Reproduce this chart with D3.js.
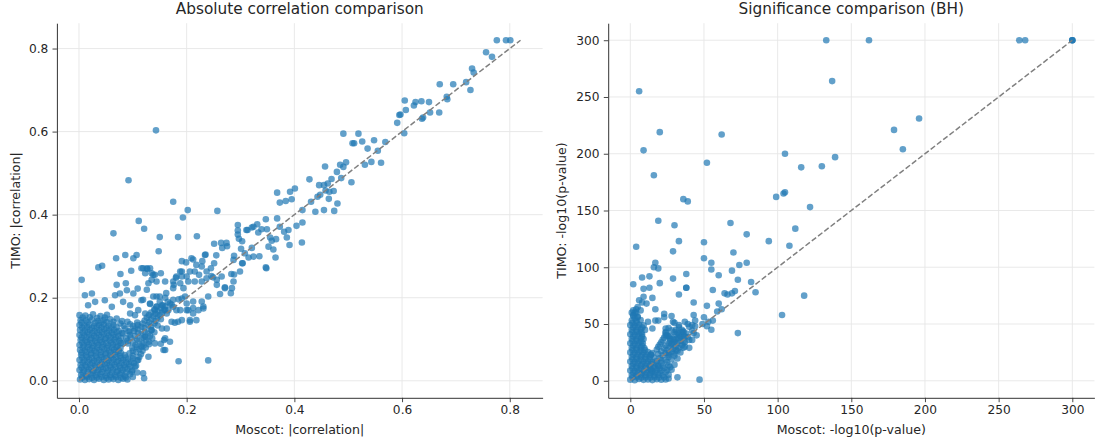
<!DOCTYPE html>
<html><head><meta charset="utf-8">
<script src="https://cdn.jsdelivr.net/npm/d3@7"></script>
<style>body{margin:0;background:#fff}svg{display:block}text{font-family:"DejaVu Sans",sans-serif}</style>
</head><body><svg id="chart" width="1096" height="447"></svg>
<script>
// ---------- data ----------
const titles = ["Absolute correlation comparison", "Significance comparison (BH)"];
const xLabels = ["Moscot: |correlation|", "Moscot: -log10(p-value)"];
const yLabels = ["TIMO: |correlation|", "TIMO: -log10(p-value)"];
const corrTicks = [0, 0.2, 0.4, 0.6, 0.8];
const corrTickLabels = ["0.0", "0.2", "0.4", "0.6", "0.8"];
const sigTicks = [0, 50, 100, 150, 200, 250, 300];
const sigTickLabels = ["0", "50", "100", "150", "200", "250", "300"];
const corrDiag = [0, 0.82];
const sigDiag = [0, 300];

// [Moscot |corr|, TIMO |corr|]
const corrPoints = [
[0.776,0.82],[0.793,0.82],[0.801,0.82],[0.756,0.791],[0.767,0.78],[0.730,0.752],[0.733,0.742],[0.719,0.719],[0.727,0.70],[0.670,0.714],[0.695,0.714],[0.683,0.684],[0.684,0.678],[0.669,0.646],[0.652,0.646],[0.650,0.671],[0.636,0.673],[0.625,0.671],[0.622,0.663],[0.605,0.675],[0.607,0.652],[0.595,0.640],[0.597,0.641],[0.591,0.621],[0.604,0.596],[0.637,0.631],[0.639,0.634],[0.491,0.595],[0.519,0.595],[0.508,0.572],[0.511,0.572],[0.526,0.576],[0.548,0.579],[0.536,0.559],[0.555,0.554],[0.569,0.575],[0.561,0.525],[0.543,0.527],[0.531,0.520],[0.496,0.526],[0.491,0.515],[0.485,0.520],[0.479,0.503],[0.487,0.488],[0.457,0.516],[0.428,0.485],[0.469,0.486],[0.462,0.475],[0.455,0.471],[0.446,0.471],[0.458,0.458],[0.465,0.455],[0.473,0.457],[0.506,0.478],[0.480,0.427],[0.464,0.438],[0.448,0.448],[0.443,0.443],[0.431,0.431],[0.474,0.409],[0.455,0.411],[0.439,0.407],[0.415,0.411],
[0.143,0.603],[0.092,0.483],[0.175,0.431],[0.202,0.411],[0.193,0.393],[0.257,0.409],[0.111,0.385],[0.121,0.366],[0.064,0.355],[0.150,0.346],[0.184,0.346],[0.219,0.348],[0.148,0.312],[0.086,0.303],[0.069,0.295],[0.107,0.303],[0.101,0.295],[0.036,0.273],[0.043,0.277],[0.119,0.271],[0.126,0.271],[0.191,0.288],[0.199,0.285],[0.212,0.292],[0.229,0.288],[0.234,0.303],[0.255,0.302],[0.251,0.330],[0.264,0.332],[0.275,0.324],[0.266,0.320],[0.295,0.375],[0.295,0.362],[0.295,0.352],[0.297,0.342],[0.303,0.336],[0.311,0.363],[0.321,0.369],[0.301,0.318],[0.288,0.301],[0.304,0.283],
[0.331,0.377],[0.333,0.357],[0.339,0.365],[0.324,0.371],[0.313,0.363],[0.347,0.389],[0.349,0.365],[0.355,0.345],[0.358,0.337],[0.352,0.323],[0.361,0.316],[0.366,0.341],[0.368,0.391],[0.373,0.371],[0.381,0.359],[0.386,0.345],[0.389,0.363],[0.368,0.453],[0.373,0.429],[0.384,0.433],[0.392,0.455],[0.401,0.463],[0.395,0.437],[0.404,0.373],[0.415,0.381],[0.414,0.333],[0.391,0.327],[0.347,0.273],[0.335,0.300],
[0.288,0.256],[0.315,0.297],[0.251,0.283],[0.245,0.271],[0.223,0.255],[0.206,0.263],[0.191,0.251],[0.181,0.251],[0.175,0.239],[0.160,0.239],[0.144,0.239],[0.138,0.255],[0.126,0.219],[0.138,0.203],[0.150,0.203],[0.162,0.211],[0.175,0.223],[0.188,0.235],[0.200,0.251],[0.215,0.239],[0.228,0.239],[0.237,0.247],[0.246,0.252],[0.256,0.243],[0.265,0.251],[0.271,0.225],[0.284,0.223],[0.262,0.209],[0.240,0.203],[0.228,0.191],[0.231,0.179],[0.212,0.191],[0.197,0.203],[0.185,0.196],[0.172,0.183],[0.160,0.179],[0.144,0.179],[0.132,0.185],[0.119,0.195],
[0.005,0.243],[0.077,0.257],[0.097,0.265],[0.116,0.271],[0.127,0.269],[0.135,0.259],[0.141,0.255],[0.152,0.259],[0.176,0.231],[0.180,0.248],[0.188,0.263],[0.194,0.223],[0.203,0.239],[0.215,0.263],[0.218,0.279],[0.228,0.275],[0.237,0.263],[0.249,0.249],[0.256,0.231],[0.271,0.223],[0.282,0.211],[0.287,0.239],[0.299,0.263],[0.348,0.271],[0.308,0.307],[0.287,0.291],[0.274,0.332],[0.235,0.304],[0.209,0.295],[0.191,0.263],[0.303,0.283],[0.324,0.299],[0.365,0.297],[0.321,0.32],[0.283,0.257],
[0.166,0.170],[0.175,0.178],[0.188,0.170],[0.200,0.170],[0.212,0.175],[0.218,0.146],[0.206,0.146],[0.191,0.146],[0.178,0.140],[0.163,0.126],[0.158,0.098],[0.152,0.089],[0.160,0.074],[0.185,0.047],[0.240,0.049],[0.119,0.018],[0.121,0.006],
[0.132,0.271],[0.123,0.259],[0.135,0.243],[0.129,0.235],[0.070,0.231],[0.087,0.235],[0.089,0.218],[0.101,0.210],[0.109,0.222],[0.076,0.210],[0.067,0.206],[0.011,0.206],[0.024,0.210],[0.030,0.190],[0.017,0.182],[0.048,0.194],[0.061,0.178],[0.082,0.190],[0.095,0.182],[0.116,0.194],[0.132,0.186],[0.144,0.203],[0.154,0.182],[0.160,0.170],[0.169,0.186],[0.181,0.170],[0.191,0.198],[0.200,0.186],[0.203,0.170],[0.212,0.162],[0.222,0.170],[0.231,0.174],[0.206,0.142],[0.184,0.142],[0.172,0.142],[0.163,0.162],[0.141,0.170],[0.123,0.162],[0.110,0.170],[0.104,0.158],[0.095,0.162],[0.154,0.126],[0.160,0.102],[0.157,0.074],[0.169,0.094],[0.141,0.090],[0.129,0.058],[0.135,0.122],[0.123,0.106],[0.116,0.082],[0.110,0.050],[0.104,0.034],
[0.002,0.003],[0.011,0.002],[0.019,0.004],[0.028,0.002],[0.037,0.005],[0.046,0.002],[0.055,0.003],[0.064,0.004],[0.073,0.002],[0.082,0.005],[0.09,0.003],
[0.004,0.014],[0.013,0.012],[0.022,0.015],[0.031,0.013],[0.04,0.016],[0.049,0.012],[0.058,0.014],[0.067,0.013],[0.076,0.015],[0.085,0.012],[0.095,0.016],[0.108,0.02],
[0.001,0.026],[0.009,0.025],[0.018,0.027],[0.027,0.024],[0.036,0.026],[0.045,0.028],[0.054,0.025],[0.063,0.027],[0.072,0.024],[0.081,0.026],[0.09,0.028],[0.099,0.025],
[0.003,0.038],[0.012,0.037],[0.021,0.039],[0.03,0.036],[0.039,0.038],[0.048,0.04],[0.057,0.037],[0.066,0.039],[0.075,0.036],[0.084,0.038],[0.093,0.04],[0.102,0.042],
[0.001,0.05],[0.01,0.049],[0.019,0.051],[0.028,0.048],[0.037,0.05],[0.046,0.052],[0.055,0.049],[0.064,0.051],[0.073,0.048],[0.082,0.05],[0.091,0.052],[0.1,0.054],[0.112,0.057],
[0.004,0.062],[0.013,0.061],[0.022,0.063],[0.031,0.06],[0.04,0.062],[0.049,0.064],[0.058,0.061],[0.067,0.063],[0.076,0.06],[0.085,0.062],[0.094,0.066],[0.106,0.069],[0.118,0.072],
[0.002,0.074],[0.011,0.073],[0.02,0.075],[0.029,0.072],[0.038,0.074],[0.047,0.076],[0.056,0.073],[0.065,0.075],[0.074,0.072],[0.099,0.079],[0.108,0.082],[0.12,0.085],[0.13,0.088],
[0.001,0.086],[0.009,0.085],[0.018,0.087],[0.027,0.084],[0.036,0.086],[0.045,0.088],[0.054,0.085],[0.063,0.087],[0.072,0.084],[0.081,0.09],[0.091,0.09],[0.1,0.093],[0.112,0.096],[0.124,0.099],[0.136,0.102],
[0.003,0.098],[0.012,0.097],[0.021,0.099],[0.03,0.096],[0.039,0.098],[0.048,0.1],[0.057,0.097],[0.066,0.099],[0.075,0.096],[0.088,0.102],[0.096,0.104],[0.104,0.108],[0.116,0.111],[0.128,0.114],[0.14,0.117],
[0.001,0.11],[0.01,0.109],[0.019,0.111],[0.028,0.108],[0.037,0.11],[0.046,0.112],[0.055,0.109],[0.064,0.111],[0.073,0.108],[0.082,0.114],[0.094,0.118],[0.102,0.12],[0.11,0.124],[0.122,0.127],[0.134,0.13],[0.146,0.133],
[0.002,0.122],[0.011,0.121],[0.02,0.123],[0.029,0.12],[0.038,0.122],[0.047,0.124],[0.056,0.121],[0.065,0.123],[0.074,0.12],[0.086,0.126],[0.1,0.132],[0.109,0.134],[0.118,0.138],[0.13,0.141],[0.142,0.144],[0.152,0.148],
[0.001,0.134],[0.01,0.133],[0.019,0.135],[0.028,0.132],[0.037,0.134],[0.046,0.136],[0.055,0.133],[0.064,0.135],[0.077,0.138],[0.09,0.142],[0.126,0.152],[0.138,0.155],[0.15,0.158],
[0.003,0.146],[0.013,0.145],[0.024,0.147],[0.035,0.144],[0.046,0.146],[0.058,0.148],[0.07,0.15],[0.134,0.164],[0.146,0.167],[0.158,0.17],
[0.001,0.158],[0.012,0.157],[0.026,0.16],[0.04,0.156],[0.052,0.159],[0.144,0.178],[0.156,0.181],
[0.15,0.19],[0.165,0.19],[0.16,0.2],[0.175,0.195],
[0.006,0.008],[0.015,0.009],[0.024,0.007],[0.033,0.008],[0.042,0.009],[0.051,0.007],[0.06,0.008],[0.069,0.009],[0.078,0.007],[0.087,0.008],[0.1,0.009],
[0.007,0.02],[0.016,0.021],[0.025,0.019],[0.034,0.02],[0.043,0.021],[0.052,0.019],[0.061,0.02],[0.07,0.021],[0.079,0.019],[0.088,0.02],[0.098,0.022],
[0.005,0.032],[0.014,0.033],[0.023,0.031],[0.032,0.032],[0.041,0.033],[0.05,0.031],[0.059,0.032],[0.068,0.033],[0.077,0.031],[0.086,0.032],[0.095,0.034],[0.106,0.036],
[0.007,0.044],[0.016,0.045],[0.025,0.043],[0.034,0.044],[0.043,0.045],[0.052,0.043],[0.061,0.044],[0.07,0.045],[0.079,0.043],[0.088,0.044],[0.097,0.046],[0.108,0.049],
[0.006,0.056],[0.015,0.057],[0.024,0.055],[0.033,0.056],[0.042,0.057],[0.051,0.055],[0.06,0.056],[0.069,0.057],[0.078,0.055],[0.087,0.056],[0.1,0.06],[0.115,0.064],
[0.005,0.068],[0.014,0.069],[0.023,0.067],[0.032,0.068],[0.041,0.069],[0.05,0.067],[0.059,0.068],[0.068,0.069],[0.078,0.067],[0.1,0.072],[0.112,0.076],[0.124,0.08],
[0.007,0.08],[0.016,0.081],[0.025,0.079],[0.034,0.08],[0.043,0.081],[0.052,0.079],[0.061,0.08],[0.07,0.081],[0.077,0.079],[0.105,0.086],[0.118,0.09],[0.13,0.094],
[0.006,0.092],[0.015,0.093],[0.024,0.091],[0.033,0.092],[0.042,0.093],[0.051,0.091],[0.06,0.092],[0.069,0.093],[0.078,0.091],[0.09,0.096],[0.108,0.1],[0.12,0.104],[0.132,0.108],
[0.005,0.104],[0.014,0.105],[0.023,0.103],[0.032,0.104],[0.041,0.105],[0.05,0.103],[0.059,0.104],[0.068,0.105],[0.078,0.103],[0.094,0.11],[0.11,0.115],[0.122,0.118],[0.134,0.122],
[0.007,0.116],[0.016,0.117],[0.025,0.115],[0.034,0.116],[0.043,0.117],[0.052,0.115],[0.061,0.116],[0.07,0.117],[0.08,0.115],[0.092,0.12],[0.104,0.126],[0.116,0.13],[0.128,0.134],[0.14,0.138],
[0.006,0.128],[0.015,0.129],[0.024,0.127],[0.033,0.128],[0.042,0.129],[0.051,0.127],[0.06,0.128],[0.07,0.129],[0.083,0.132],[0.095,0.136],[0.108,0.14],[0.122,0.145],[0.134,0.148],[0.146,0.152],
[0.005,0.14],[0.016,0.141],[0.03,0.139],[0.041,0.14],[0.052,0.141],[0.064,0.142],[0.08,0.144],[0.13,0.158],[0.142,0.161],[0.154,0.164],
[0.007,0.152],[0.02,0.153],[0.034,0.151],[0.048,0.152],[0.14,0.172],[0.152,0.175]
];

// [Moscot -log10(p), TIMO -log10(p)]
const sigPoints = [
[133,300],[162,300],[264,300],[268,300],[300,300],[300,300],[300,300],[137,264],[196,231],[179,221],[185,204],[105,200],[139,197],[130,189],[116,188],[104,165],[105,166],[122,153],[112,134],[108,119],[118,75],[103,58],
[6,255],[20,219],[62,217],[9,203],[52,192],[16,181],[99,162],[36,160],[39,158],[19,141],[30,137],[68,139],[79,129],[4,118],[33,123],[50,122],[94,123],[29,114],[70,113],[50,108],[55,104],[79,104],[74,102],[17,104],[16,100],[19,99],[55,98],[69,97],
[2,85],[8,91],[13,92],[29,90],[38,94],[38,82],[38,82],[43,69],[33,76],[9,81],[9,74],[11,68],[6,71],[17,63],[23,59],[23,56],[28,57],[30,51],[17,53],[19,53],[4,60],[4,63],[3,60],[5,56],[7,62],[12,52],[37,52],[39,50],[42,49],[44,48],[43,58],[40,29],[36,43],[24,46],[24,43],[60,93],[73,89],[82,87],[56,80],[64,77],[66,76],[69,77],[71,79],[60,68],[52,66],[62,63],[59,61],[50,56],[56,53],[53,52],[73,42],[47,1],[26,2],[32,3],[52,48],[55,45],[49,50],[45,40],[42,36],[37,34],[34,39],[30,36],[28,33],[35,43],[31,45],[26,39],[85,78],[44,53],[33,49],[29,52],[24,40],[27,37],[32,42],[37,39],[40,36],[43,42],[36,29],[31,27],[26,24],[21,18],[19,13],[15,8],[14,10],[14,23],[13,82],[20,86],[15,73],[8,69],[5,65],[2,58],[2,62],[1,60],
[0,1],[3,0.5],[6,1.5],[9,0.8],[12,1.2],[15,0.6],[18,1.4],[21,0.9],[24,1.1],
[1,5],[4,4.5],[7,5.5],[10,4.8],[13,5.2],[16,4.6],[19,5.4],[22,4.9],[26,5.3],
[0,9],[3,8.6],[6,9.4],[9,8.8],[12,9.2],[15,8.5],[18,9.5],[21,8.9],[25,9.3],[28,9.8],
[1,13],[4,12.6],[7,13.4],[10,12.8],[13,13.2],[16,12.5],[19,13.5],[22,12.9],[26,13.6],[30,14.2],
[0,17],[3,16.6],[6,17.4],[9,16.8],[12,17.2],[15,16.5],[18,17.5],[24,18.4],[28,19],[32,19.6],
[1,21],[4,20.6],[7,21.4],[10,20.8],[13,21.2],[16,20.5],[22,22.4],[26,23],[30,24],[34,25],
[0,25],[3,24.6],[6,25.4],[9,24.8],[12,25.2],[15,24.5],[21,26],[25,27],[29,28],[33,29],[37,30],
[1,29],[4,28.6],[7,29.4],[9.5,28.8],[19,30],[24,31],[28,32],[32,33],[36,34],
[0,33],[3,32.6],[6,33.4],[8.5,32.8],[21,34],[27,35],[31,36.5],[35,37.5],[39,38.5],
[1,37],[4,36.6],[7,37.4],[9,36.8],[23,38],[27,39.5],[33,40.5],
[0,41],[3,40.6],[6,41.4],[8,40.8],[24,42],[30,43],[36,43.5],[42,44],
[1,45],[4,44.6],[7,45.4],[10,44.8],[15,46],[26,46.5],[33,47],[40,47.5],
[0,49],[3,48.6],[6,49.4],[9,48.8],
[1,53],[4,52.6],[7,53.4],
[2,57],[5,56.6],
[1.5,3],[4.5,3.2],[7.5,2.8],[10.5,3.1],[13.5,2.9],[16.5,3.2],[19.5,2.8],[23,3],
[2,7],[5,7.2],[8,6.8],[11,7.1],[14,6.9],[17,7.2],[20,6.8],[24,7.4],
[1.5,11],[4.5,11.2],[7.5,10.8],[10.5,11.1],[13.5,10.9],[17,11.2],[20,10.8],[23,11.3],[27,12],
[2,15],[5,15.2],[8,14.8],[11,15.1],[14,14.9],[17,15.2],[21,15.8],[25,16.4],
[1.5,19],[4.5,19.2],[7.5,18.8],[10.5,19.1],[13.5,18.9],[20,20],[26,21],[30,22],
[2,23],[5,23.2],[8,22.8],[11,23.1],[14,22.9],[19,23.5],[24,24.5],[28,25.5],[32,26.5],
[1.5,27],[4.5,27.2],[7.5,26.8],[10,27.1],[18,27.5],[23,28.5],[27,29.5],[31,30.5],[35,31.5],
[2,31],[5,31.2],[8,30.8],[20,32],[26,33],[30,34],[34,35],
[1.5,35],[4.5,35.2],[7.5,34.8],[22,36],[29,37],[33,38],[37,39],
[2,39],[5,39.2],[8,38.8],[25,40],[31,41],[38,41.5],
[1.5,43],[4.5,43.2],[7.5,42.8],[28,44.5],[35,45],
[2,47],[5,47.2],[8,46.8],
[1.5,51],[4.5,51.2],
[3,55]
];

// ---------- drawing ----------
const svg = d3.select("#chart");
const plotTop = 23.2, plotBottom = 397.8;
const panels = [
  {pts: corrPoints, ticks: corrTicks, labels: corrTickLabels, domain: [-0.041, 0.861], diag: corrDiag,
   title: titles[0], xl: xLabels[0], yl: yLabels[0], x0: 56.9, x1: 542.6, ylx: 20},
  {pts: sigPoints, ticks: sigTicks, labels: sigTickLabels, domain: [-15, 315], diag: sigDiag,
   title: titles[1], xl: xLabels[1], yl: yLabels[1], x0: 608.2, x1: 1094.4, ylx: 566}
];

panels.forEach(p => {
  const x = d3.scaleLinear().domain(p.domain).range([p.x0, p.x1]);
  const y = d3.scaleLinear().domain(p.domain).range([plotBottom, plotTop]);
  const g = svg.append("g");

  g.append("g").selectAll("line").data(p.ticks).join("line")
    .attr("x1", d => x(d)).attr("x2", d => x(d)).attr("y1", plotTop).attr("y2", plotBottom)
    .attr("stroke", "#e6e6e6").attr("stroke-width", 0.9);
  g.append("g").selectAll("line").data(p.ticks).join("line")
    .attr("y1", d => y(d)).attr("y2", d => y(d)).attr("x1", p.x0).attr("x2", p.x1)
    .attr("stroke", "#e6e6e6").attr("stroke-width", 0.9);

  g.append("g").selectAll("circle").data(p.pts).join("circle")
    .attr("cx", d => x(d[0])).attr("cy", d => y(d[1])).attr("r", 3.3)
    .attr("fill", "#1f77b4").attr("fill-opacity", 0.7);

  g.append("line")
    .attr("x1", x(p.diag[0])).attr("y1", y(p.diag[0]))
    .attr("x2", x(p.diag[1])).attr("y2", y(p.diag[1]))
    .attr("stroke", "#808080").attr("stroke-width", 1.5).attr("stroke-dasharray", "5.5,2.4");

  const xa = g.append("g").attr("transform", `translate(0,${plotBottom})`)
    .call(d3.axisBottom(x).tickValues(p.ticks).tickFormat((d, i) => p.labels[i])
      .tickSize(4.4).tickSizeOuter(0).tickPadding(3.6));
  const ya = g.append("g").attr("transform", `translate(${p.x0},0)`)
    .call(d3.axisLeft(y).tickValues(p.ticks).tickFormat((d, i) => p.labels[i])
      .tickSize(4.4).tickSizeOuter(0).tickPadding(4.2));
  [xa, ya].forEach(a => {
    a.select(".domain").attr("stroke", "#333").attr("stroke-width", 1);
    a.selectAll(".tick line").attr("stroke", "#333").attr("stroke-width", 0.9);
    a.selectAll(".tick text").attr("font-family", "DejaVu Sans").attr("font-size", 12.2).attr("fill", "#262626");
  });
  const cx = (p.x0 + p.x1) / 2;
  g.append("text").attr("x", cx).attr("y", 14).attr("text-anchor", "middle")
    .attr("font-size", 15.3).attr("fill", "#262626").text(p.title);
  g.append("text").attr("x", cx).attr("y", 434).attr("text-anchor", "middle")
    .attr("font-size", 12.6).attr("fill", "#262626").text(p.xl);
  g.append("text").attr("transform", `translate(${p.ylx},${(plotTop + plotBottom) / 2}) rotate(-90)`)
    .attr("text-anchor", "middle").attr("font-size", 12.6).attr("fill", "#262626").text(p.yl);
});
</script></body></html>
